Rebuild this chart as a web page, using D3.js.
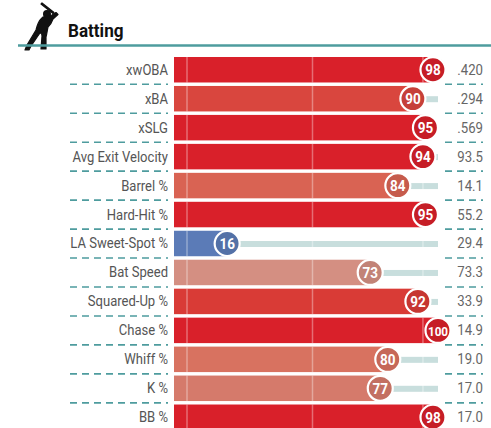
<!DOCTYPE html>
<html>
<head>
<meta charset="utf-8">
<script src="https://cdn.jsdelivr.net/npm/d3@7"></script>
<style>
  body { margin: 0; background: #fff; }
  svg { display: block; font-family: Roboto, "Noto Sans", sans-serif; }
</style>
</head>
<body>
<svg id="chart" width="491" height="428"></svg>
<script>
const categories = ["xwOBA", "xBA", "xSLG", "Avg Exit Velocity", "Barrel %", "Hard-Hit %",
    "LA Sweet-Spot %", "Bat Speed", "Squared-Up %", "Chase %", "Whiff %", "K %", "BB %"];
const percentiles = [98, 90, 95, 94, 84, 95, 16, 73, 92, 100, 80, 77, 98];
const statValues = [".420", ".294", ".569", "93.5", "14.1", "55.2", "29.4", "73.3", "33.9", "14.9", "19.0", "17.0", "17.0"];
const gridValues = [0, 50, 94];

// percentile colours
const colorStops = [16, 73, 77, 80, 84, 90, 92, 94, 100];
const colorRange = ["#5b7bb7", "#d48f82", "#d57a6b", "#d87260", "#d96353", "#d9463e", "#d93b36", "#d9202a", "#d9202a"];

const width = 491;
const barLeft = 174;
const labelRight = 168;
const valueRight = 483;

const svg = d3.select("#chart");
const teal = "#4e9c9e";

// header
const batter = svg.append("g").attr("fill", "#111")
    .attr("stroke", "#111").attr("stroke-width", 1.2).attr("stroke-linejoin", "round");
batter.append("path")
    .attr("d", "M42,3 L54,12.5 L53,13.5 L41,4 Z");
batter.append("circle").attr("cx", 47).attr("cy", 14).attr("r", 3.4);
batter.append("path")
    .attr("d", "M43,17 C46,16 50,16 52,15 L56,12.5 L58,14.5 L53,19 C52,22 50,25 48,27 C47,31 47,34 46,37 L46,49 L41,49 L42,36 C42,34 41,33 40,33 C37,37 34,42 31,46 L29,50 L25,50 L27,45 C30,40 33,35 36,30 C37,26 39,21 41,19 Z");

svg.append("line")
    .attr("x1", 18).attr("x2", width)
    .attr("y1", 45.5).attr("y2", 45.5)
    .attr("stroke", teal).attr("stroke-width", 2.5);

svg.append("text")
    .attr("x", 68).attr("y", 37)
    .attr("font-size", 19).attr("font-weight", 700)
    .attr("fill", "#111")
    .attr("transform", "translate(68,0) scale(0.9,1) translate(-68,0)")
    .text("Batting");

// scales
const y = d3.scaleBand().domain(categories).range([57, 430]).paddingInner(0.12);
const x = d3.scaleLinear().domain([0, 100]).range([187, 438]);
const color = d3.scaleLinear().domain(colorStops).range(colorRange);

const rows = svg.selectAll(".row")
    .data(categories.map((c, i) => ({ name: c, pct: percentiles[i], val: statValues[i] })))
    .enter().append("g")
    .attr("class", "row")
    .attr("transform", d => `translate(0,${y(d.name)})`);

const bh = y.bandwidth();

// background track
rows.append("rect")
    .attr("x", d => x(d.pct))
    .attr("y", bh / 2 - 2.5)
    .attr("width", d => x(100) - x(d.pct))
    .attr("height", 6)
    .attr("fill", "#c8dedd");

// bars
rows.append("rect")
    .attr("x", barLeft)
    .attr("y", 0)
    .attr("width", d => x(d.pct) - barLeft)
    .attr("height", bh)
    .attr("fill", d => color(d.pct));

// grid lines
rows.selectAll(".grid")
    .data(gridValues)
    .enter().append("line")
    .attr("class", "grid")
    .attr("x1", v => x(v)).attr("x2", v => x(v))
    .attr("y1", 0).attr("y2", bh)
    .attr("stroke", "#fff").attr("stroke-opacity", 0.35).attr("stroke-width", 1.5);

// circles
rows.append("circle")
    .attr("cx", d => x(d.pct))
    .attr("cy", bh / 2)
    .attr("r", 12.5)
    .attr("fill", d => d3.color(color(d.pct)).darker(0.25))
    .attr("stroke", "#fff").attr("stroke-width", 2.2);

rows.append("text")
    .attr("x", d => x(d.pct))
    .attr("y", bh / 2 + 5.3)
    .attr("text-anchor", "middle")
    .attr("font-size", d => d.pct >= 100 ? 13 : 15)
    .attr("font-weight", 700)
    .attr("fill", "#fff")
    .attr("transform", d => `translate(${x(d.pct)},0) scale(0.9,1) translate(${-x(d.pct)},0)`)
    .text(d => d.pct);

// labels
rows.append("text")
    .attr("x", labelRight)
    .attr("y", bh / 2 + 5)
    .attr("text-anchor", "end")
    .attr("font-size", 15)
    .attr("fill", "#555")
    .attr("transform", `translate(${labelRight},0) scale(0.87,1) translate(${-labelRight},0)`)
    .text(d => d.name);

rows.append("text")
    .attr("x", valueRight)
    .attr("y", bh / 2 + 5)
    .attr("text-anchor", "end")
    .attr("font-size", 15)
    .attr("fill", "#666")
    .attr("transform", `translate(${valueRight},0) scale(0.88,1) translate(${-valueRight},0)`)
    .text(d => d.val);

// dashed separators
const seps = categories.slice(0, -1).map(c => y(c) + bh + 1.8);
[[70, labelRight], [445, valueRight]].forEach(([a, b]) => {
    svg.selectAll(null)
        .data(seps)
        .enter().append("line")
        .attr("x1", a).attr("x2", b)
        .attr("y1", d => d).attr("y2", d => d)
        .attr("stroke", teal).attr("stroke-width", 1.6)
        .attr("stroke-dasharray", "7,5");
});
</script>
</body>
</html>
